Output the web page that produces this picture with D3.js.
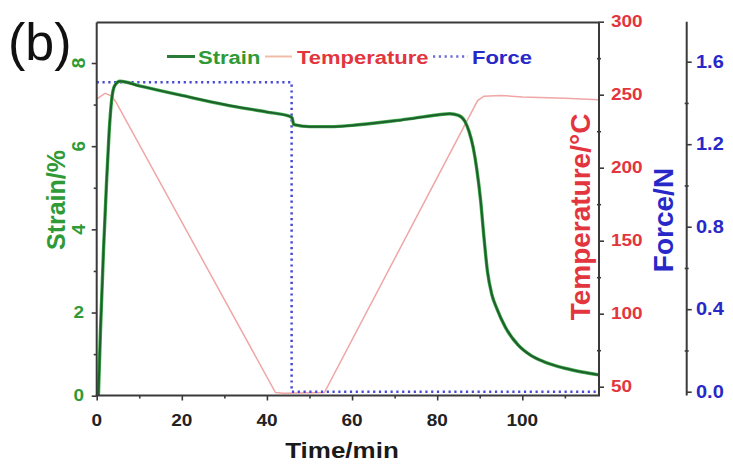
<!DOCTYPE html>
<html><head><meta charset="utf-8">
<script src="https://cdn.jsdelivr.net/npm/d3@7"></script>
<style>html,body{margin:0;padding:0;background:#fff}svg{display:block}</style>
</head><body>
<svg id="c" width="733" height="464"></svg>
<script>
// ---- data ----
const strainTime = [0.4,0.9,1.6,2.3,2.9,3.5,4.2,5.5,10,20,30,40,45.3,45.9,46.3,50,55,60,65,70,75,80,83,85,86.5,87.5,88.5,89.3,90.2,91,91.8,92.8,94,96,99,102,105,110,114,118];
const strainVal  = [0,1.6,3.5,5.1,6.3,7.1,7.45,7.56,7.45,7.22,7.0,6.82,6.72,6.68,6.52,6.47,6.47,6.5,6.55,6.61,6.68,6.75,6.78,6.74,6.6,6.35,5.95,5.45,4.7,3.8,3.0,2.45,2.1,1.65,1.22,0.97,0.82,0.66,0.57,0.50];
const tempTime = [0,1,2,3.5,4.5,42,44,53.5,89.5,91,95,100,110,118];
const tempVal  = [247,249,251,249,245,46,45.5,46,246,249,249.5,248.5,247.5,246.5];
const forceTime = [0,45.8,45.8,118];
const forceVal  = [1.5,1.5,0,0];
const xTicks = [0,20,40,60,80,100];
const strainTicks = [0,2,4,6,8];
const tempTicks = [50,100,150,200,250,300];
const forceTicks = [0,0.4,0.8,1.2,1.6];
const legendNames = ["Strain","Temperature","Force"];

// ---- layout ----
const L = 96.7, R = 599, T = 22.5, B = 395.5, FX = 686.7;
const x = d3.scaleLinear().domain([0,100]).range([96.7,522.3]);
const yS = d3.scaleLinear().domain([0,8]).range([395.7,63]);
const yT = d3.scaleLinear().domain([50,300]).range([386.7,21.7]);
const yF = d3.scaleLinear().domain([0,1.6]).range([391.7,61.7]);

const cGreen = "#2f9a36", cRed = "#e2353d", cBlue = "#2828c8", cAxis = "#3a3a3a";
const FONT = "Arial, 'Liberation Sans', Helvetica, sans-serif";
const svg = d3.select("#c");

function txt(g, px, py, s, o) {
  const t = g.append("text")
    .attr("transform", `translate(${px},${py}) scale(${o.sx||1},${o.sy||1}) rotate(${o.rot||0})`)
    .attr("font-family", FONT).attr("font-size", o.size)
    .attr("font-weight", o.weight || "bold").attr("fill", o.fill || "#222")
    .attr("text-anchor", o.anchor || "start").text(s);
  if (o.db) t.attr("dominant-baseline", o.db);
  return t;
}

// ---- data lines ----
const gData = svg.append("g");
const lineS = d3.line().x((d,i)=>x(strainTime[i])).y(d=>yS(d)).curve(d3.curveMonotoneX);
const lineT = d3.line().x((d,i)=>x(tempTime[i])).y(d=>yT(d));
const lineF = d3.line().x((d,i)=>x(forceTime[i])).y(d=>yF(d));

gData.append("path").attr("d", lineT(tempVal)).attr("fill","none")
  .attr("stroke","#f0a6a6").attr("stroke-width",1.5);
gData.append("path").attr("d", lineF(forceVal)).attr("fill","none")
  .attr("stroke","#4848d6").attr("stroke-width",2.5).attr("stroke-dasharray","2.2,3.6");
gData.append("path").attr("d", lineS(strainVal)).attr("fill","none")
  .attr("stroke","#3fae4a").attr("stroke-width",3.4);
gData.append("path").attr("d", lineS(strainVal)).attr("fill","none")
  .attr("stroke","#1f5f2e").attr("stroke-width",2);

// ---- axes frame ----
const gAx = svg.append("g").attr("stroke", cAxis).attr("stroke-width", 2).attr("fill","none");
gAx.append("line").attr("x1",L).attr("x2",R).attr("y1",T).attr("y2",T);
gAx.append("line").attr("x1",L).attr("x2",L).attr("y1",T).attr("y2",B);
gAx.append("line").attr("x1",L-1).attr("x2",R+1).attr("y1",B).attr("y2",B);
gAx.append("line").attr("x1",R).attr("x2",R).attr("y1",21.7).attr("y2",B);
gAx.append("line").attr("x1",FX).attr("x2",FX).attr("y1",21.7).attr("y2",B);

// ticks via d3 axes (labels drawn separately)
function styleAxis(g){ g.select(".domain").remove(); g.selectAll(".tick line").attr("stroke",cAxis).attr("stroke-width",1.6); g.selectAll(".tick text").remove(); }
svg.append("g").attr("transform",`translate(0,${B})`)
  .call(d3.axisBottom(x).tickValues(xTicks).tickSize(5)).call(styleAxis);
svg.append("g").attr("transform",`translate(0,${B})`)
  .call(d3.axisBottom(x).tickValues(d3.range(10,120,20)).tickSize(3)).call(styleAxis);
svg.append("g").attr("transform",`translate(${L},0)`)
  .call(d3.axisLeft(yS).tickValues(strainTicks).tickSize(5)).call(styleAxis);
svg.append("g").attr("transform",`translate(${L},0)`)
  .call(d3.axisLeft(yS).tickValues([1,3,5,7]).tickSize(3)).call(styleAxis);
svg.append("g").attr("transform",`translate(${R},0)`)
  .call(d3.axisRight(yT).tickValues(tempTicks).tickSize(5)).call(styleAxis);
svg.append("g").attr("transform",`translate(${R},0)`)
  .call(d3.axisRight(yT).tickValues([75,125,175,225,275])).call(g=>g.selectAll(".tick line").attr("x1",-2).attr("x2",2)).call(styleAxis);
svg.append("g").attr("transform",`translate(${FX},0)`)
  .call(d3.axisRight(yF).tickValues(forceTicks).tickSize(5)).call(styleAxis);
svg.append("g").attr("transform",`translate(${FX},0)`)
  .call(d3.axisRight(yF).tickValues([0.2,0.6,1.0,1.4])).call(g=>g.selectAll(".tick line").attr("x1",-2).attr("x2",2)).call(styleAxis);

// ---- tick labels ----
const gL = svg.append("g");
xTicks.forEach(v => txt(gL, x(v), 426, String(v), {size:19, anchor:"middle", sy:0.88, fill:"#222"}));
strainTicks.forEach(v => {
  if (v >= 4) txt(gL, 78, yS(v), String(v), {size:19, anchor:"middle", db:"central", rot:-90, fill:cGreen});
  else txt(gL, 84, yS(v), String(v), {size:19, anchor:"end", db:"central", sy:0.88, fill:cGreen});
});
tempTicks.forEach(v => txt(gL, 611, yT(v), String(v), {size:19, db:"central", sy:0.88, fill:cRed}));
forceTicks.forEach(v => txt(gL, 696, yF(v), v.toFixed(1), {size:20, db:"central", sy:0.88, fill:cBlue}));

// ---- axis titles ----
txt(gL, 65, 200, "Strain/%", {size:25, anchor:"middle", rot:-90, fill:cGreen});
txt(gL, 590, 217, "Temperature/°C", {size:28, anchor:"middle", rot:-90, fill:cRed});
txt(gL, 673, 220, "Force/N", {size:28, anchor:"middle", rot:-90, fill:cBlue});
txt(gL, 342, 458, "Time/min", {size:26, anchor:"middle", sy:0.85, fill:"#1a1a1a"});
txt(gL, 8, 60, "(b)", {size:52, weight:"normal", fill:"#111"});

// ---- legend ----
const gLeg = svg.append("g");
const legY = 56.5;
gLeg.append("line").attr("x1",167).attr("x2",195).attr("y1",legY).attr("y2",legY).attr("stroke","#2a7a38").attr("stroke-width",3);
txt(gLeg, 198, 63.5, legendNames[0], {size:22, sy:0.85, fill:cGreen});
gLeg.append("line").attr("x1",265).attr("x2",292).attr("y1",legY).attr("y2",legY).attr("stroke","#f3bca8").attr("stroke-width",2);
txt(gLeg, 297, 63.5, legendNames[1], {size:22, sy:0.85, fill:cRed});
gLeg.append("line").attr("x1",433).attr("x2",468).attr("y1",legY).attr("y2",legY).attr("stroke","#6a6ad8").attr("stroke-width",2.5).attr("stroke-dasharray","2.2,3.6");
txt(gLeg, 472, 63.5, legendNames[2], {size:22, sy:0.85, fill:cBlue});
</script>
</body></html>
